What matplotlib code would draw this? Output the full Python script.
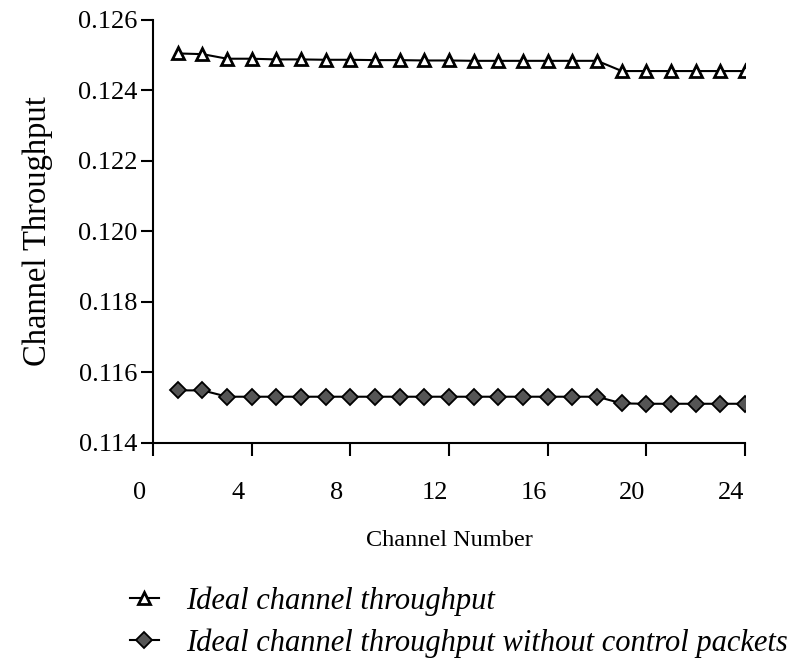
import numpy as np
import matplotlib
matplotlib.use("Agg")
import matplotlib.pyplot as plt
import matplotlib.transforms as mtransforms

plt.rcParams['font.family'] = ['Liberation Serif', 'DejaVu Serif']

channels = np.arange(1, 25)
ideal = [0.12505, 0.12503, 0.12490, 0.12490, 0.12488, 0.12488, 0.12487, 0.12487,
         0.12486, 0.12486, 0.12485, 0.12485, 0.12484, 0.12484, 0.12484, 0.12484,
         0.12484, 0.12484, 0.12455, 0.12455, 0.12455, 0.12455, 0.12455, 0.12455]
ideal_no_ctrl = [0.11549, 0.11549, 0.11531, 0.11531, 0.11531, 0.11531, 0.11531, 0.11531,
                 0.11531, 0.11531, 0.11531, 0.11531, 0.11531, 0.11531, 0.11531, 0.11531,
                 0.11531, 0.11531, 0.11512, 0.11511, 0.11511, 0.11511, 0.11511, 0.11511]
xticks = [0, 4, 8, 12, 16, 20, 24]
yticks = [0.114, 0.116, 0.118, 0.120, 0.122, 0.124, 0.126]

fig = plt.figure(figsize=(8.06, 6.65), dpi=100)
ax = fig.add_axes([0.19, 0.334, 0.7345, 0.636])

l1, = ax.plot(channels, ideal, color='black', lw=1.5, marker='^', ms=9,
              mfc='white', mec='black', mew=2)
l2, = ax.plot(channels, ideal_no_ctrl, color='black', lw=1.5, marker='D', ms=8,
              mfc='#555555', mec='black', mew=1.3)

ax.set_xlim(0, 24)
ax.set_ylim(0.114, 0.126)
ax.set_xticks(xticks)
ax.set_yticks(yticks)
ax.set_yticklabels([f"{v:.3f}" for v in yticks])
for s in ['top', 'right']:
    ax.spines[s].set_visible(False)
for s in ['left', 'bottom']:
    ax.spines[s].set_linewidth(1.5)
ax.tick_params(direction='out', length=9, width=1.5, labelsize=19)
ax.tick_params(axis='y', pad=2)
ax.tick_params(axis='x', pad=19)

# the original's x tick labels sit a little left of their ticks
shift = mtransforms.ScaledTranslation(-0.14, 0, fig.dpi_scale_trans)
for lab in ax.get_xticklabels():
    lab.set_transform(lab.get_transform() + shift)

ax.set_xlabel('Channel Number', fontsize=17.5, labelpad=19)
ax.set_ylabel('Channel Throughput', fontsize=23.5, labelpad=18)

fig.legend([l1, l2], ['Ideal channel throughput',
                      'Ideal channel throughput without control packets'],
           loc='upper left', bbox_to_anchor=(0.161, 0.118), frameon=False,
           prop={'style': 'italic', 'size': 22}, handlelength=0.95,
           handletextpad=0.9, labelspacing=0.4, borderaxespad=0, borderpad=0)

fig.savefig('out.png', dpi=100)
